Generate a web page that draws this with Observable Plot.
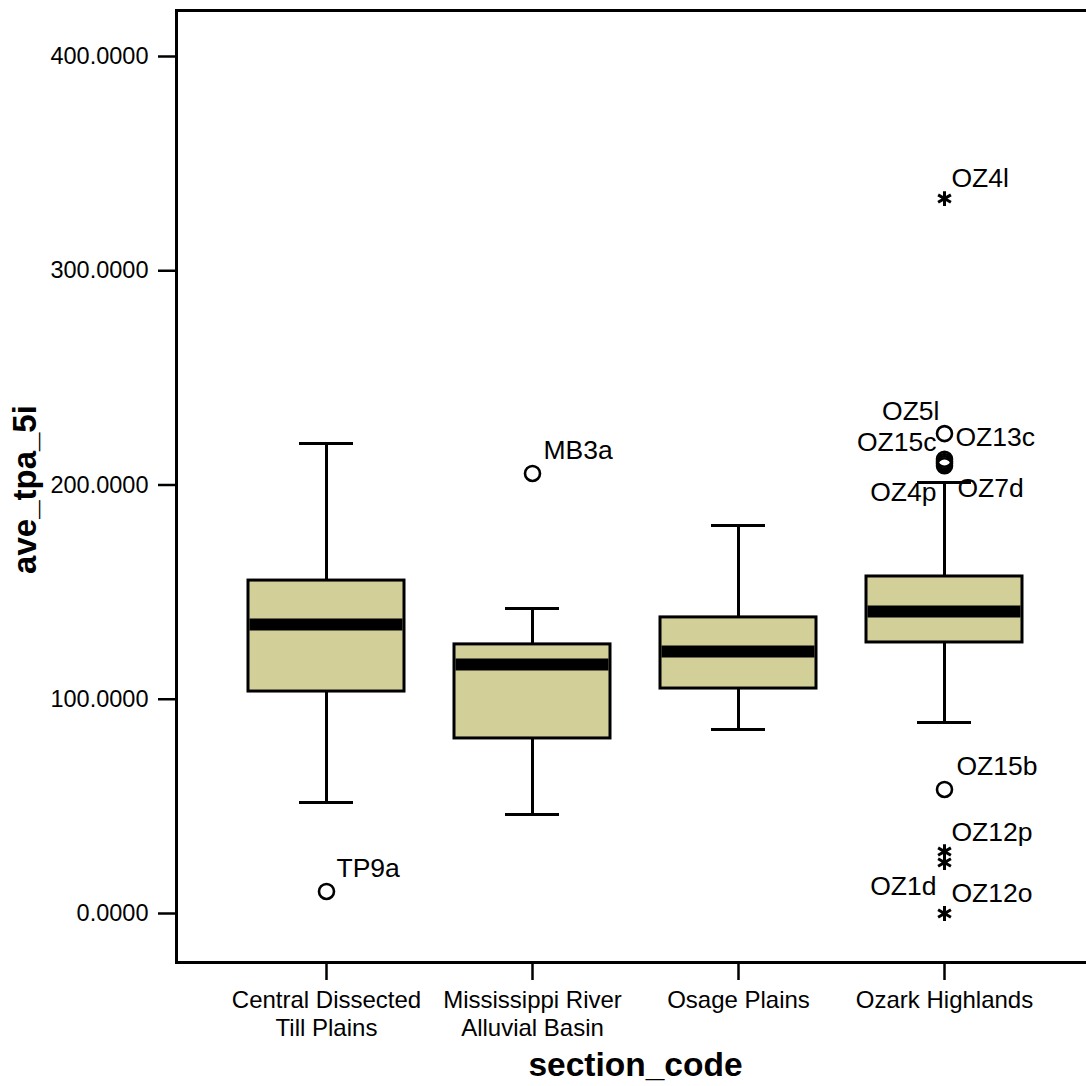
<!DOCTYPE html>
<html>
<head>
<meta charset="utf-8">
<script src="https://cdn.jsdelivr.net/npm/d3@7"></script>
<script src="https://cdn.jsdelivr.net/npm/@observablehq/plot@0.6"></script>
<style>
  html, body { margin: 0; padding: 0; background: #fff; overflow: hidden; }
  svg { display: block; max-width: none !important; }
</style>
</head>
<body>
<div id="chart"></div>
<script>
// ---- data ----
const sections = ["Central Dissected Till Plains", "Mississippi River Alluvial Basin", "Osage Plains", "Ozark Highlands"];
const tickLabels = ["Central Dissected\nTill Plains", "Mississippi River\nAlluvial Basin", "Osage Plains", "Ozark Highlands"];
const whiskerLow  = [51.8, 46.2, 85.9, 89.1];
const q1          = [103.6, 81.7, 105.0, 126.5];
const median      = [134.9, 116.2, 122.3, 141.0];
const q3          = [155.4, 125.6, 138.2, 157.3];
const whiskerHigh = [219.4, 142.4, 181.1, 201.2];

const outlierSection = ["Central Dissected Till Plains", "Mississippi River Alluvial Basin",
  "Ozark Highlands", "Ozark Highlands", "Ozark Highlands", "Ozark Highlands", "Ozark Highlands", "Ozark Highlands",
  "Ozark Highlands", "Ozark Highlands", "Ozark Highlands", "Ozark Highlands"];
const outlierValue = [10.3, 205.4, 333.7, 224.0, 212.0, 211.0, 210.0, 209.0, 57.9, 28.9, 23.8, 0.0];
const outlierName  = ["TP9a", "MB3a", "OZ4l", "OZ5l", "OZ13c", "OZ15c", "OZ7d", "OZ4p", "OZ15b", "OZ12p", "OZ1d", "OZ12o"];
const outlierKind  = ["circle", "circle", "star", "circle", "circle", "circle", "circle", "circle", "circle", "star", "star", "star"];

const yTicks = [0, 100, 200, 300, 400];
const yDomain = [-22.87, 421.47];
const xTitle = "section_code";
const yTitle = "ave_tpa_5i";

// label placement (styling)
const labelPlacement = {
  TP9a: {dx: 10, dy: -23, anchor: "start"},
  MB3a: {dx: 11, dy: -23, anchor: "start"},
  OZ4l: {dx: 7, dy: -20, anchor: "start"},
  OZ5l: {dx: -5, dy: -22, anchor: "end"},
  OZ13c: {dx: 11, dy: -22, anchor: "start"},
  OZ15c: {dx: -8, dy: -19, anchor: "end"},
  OZ7d: {dx: 13, dy: 25, anchor: "start"},
  OZ4p: {dx: -8, dy: 27, anchor: "end"},
  OZ15b: {dx: 12, dy: -23, anchor: "start"},
  OZ12p: {dx: 7, dy: -19, anchor: "start"},
  OZ1d: {dx: -8, dy: 24, anchor: "end"},
  OZ12o: {dx: 7, dy: -20, anchor: "start"}
};

const boxes = sections.map((s, i) => ({section: s, lo: whiskerLow[i], q1: q1[i], med: median[i], q3: q3[i], hi: whiskerHigh[i]}));
const outliers = outlierName.map((n, i) => ({section: outlierSection[i], value: outlierValue[i], name: n, kind: outlierKind[i]}));

const font = "'Liberation Sans', Arial, Helvetica, sans-serif";
const boxFill = "#d3cf98";

const labelMarks = ["start", "end"].flatMap(anchor =>
  outliers.filter(d => labelPlacement[d.name].anchor === anchor).map(d =>
    Plot.text([d], {x: "section", y: "value", text: "name", textAnchor: anchor,
      dx: labelPlacement[d.name].dx, dy: labelPlacement[d.name].dy, fontSize: 26.5, fill: "black"})
  )
);

const chart = Plot.plot({
  width: 1090,
  height: 1086,
  marginLeft: 176,
  marginRight: 0,
  marginTop: 10,
  marginBottom: 124,
  style: {fontFamily: font, background: "white", color: "black", maxWidth: "none"},
  x: {type: "band", domain: sections, range: [221.7, 1048.3], paddingInner: 0.245, paddingOuter: 0.1225, align: 0.5},
  y: {domain: yDomain},
  marks: [
    Plot.axisY({ticks: yTicks, tickFormat: d3.format(".4f"), tickSize: 18, tickPadding: 10, fontSize: 23.5, strokeWidth: 2.5, label: null}),
    Plot.axisX({tickFormat: (d) => tickLabels[sections.indexOf(d)], tickSize: 18, tickPadding: 8, fontSize: 24, lineHeight: 1.15, strokeWidth: 2.5, label: null}),
    // whiskers
    Plot.ruleX(boxes, {x: "section", y1: "lo", y2: "q1", stroke: "black", strokeWidth: 3}),
    Plot.ruleX(boxes, {x: "section", y1: "q3", y2: "hi", stroke: "black", strokeWidth: 3}),
    Plot.tickY(boxes, {x: "section", y: "lo", stroke: "black", strokeWidth: 3, inset: 51}),
    Plot.tickY(boxes, {x: "section", y: "hi", stroke: "black", strokeWidth: 3, inset: 51}),
    // boxes
    Plot.barY(boxes, {x: "section", y1: "q1", y2: "q3", fill: boxFill, stroke: "black", strokeWidth: 3}),
    Plot.tickY(boxes, {x: "section", y: "med", stroke: "black", strokeWidth: 12, inset: 1.5}),
    // outliers
    Plot.dot(outliers.filter(d => d.kind === "circle"), {x: "section", y: "value", r: 7.5, stroke: "black", strokeWidth: 2.6, fill: "none"}),
    Plot.dot(outliers.filter(d => d.kind === "star"), {x: "section", y: "value", symbol: "asterisk", r: 7, stroke: "black", strokeWidth: 3}),
    ...labelMarks,
    // frame
    Plot.frame({stroke: "black", strokeWidth: 3}),
    // axis titles
    Plot.text([xTitle], {frameAnchor: "bottom", lineAnchor: "middle", textAnchor: "middle", dy: 103, dx: 2, fontSize: 33.5, fontWeight: "bold", fill: "black"}),
    Plot.text([yTitle], {frameAnchor: "left", textAnchor: "middle", lineAnchor: "middle", dx: -151, dy: 3, rotate: -90, fontSize: 33, fontWeight: "bold", fill: "black"})
  ]
});
document.getElementById("chart").appendChild(chart);
</script>
</body>
</html>
